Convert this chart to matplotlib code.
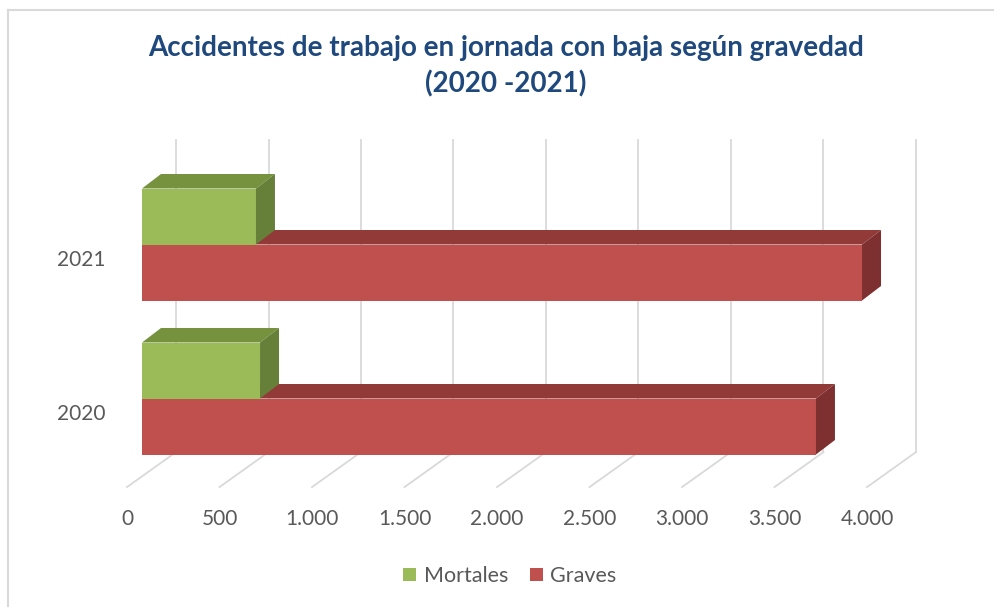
import numpy as np
import matplotlib.pyplot as plt
from matplotlib.patches import Polygon, Patch
from matplotlib.lines import Line2D

plt.rcParams['font.family'] = ['Lato', 'DejaVu Sans']

# Data
years = ['2020', '2021']
mortales = [638, 616]
graves = [3643, 3892]
xticks_vals = [0, 500, 1000, 1500, 2000, 2500, 3000, 3500, 4000]

# Colours
green_front, green_top, green_side = '#9BBB59', '#77923F', '#66803A'
red_front, red_top, red_side = '#C0504D', '#923A38', '#7D302F'
grid_col = '#D9D9D9'
text_col = '#595959'

W_PX, H_PX = 994, 607
fig = plt.figure(figsize=(W_PX / 100, H_PX / 100), dpi=100)

# front plane of the bars: x 0 -> 142px, 4000 -> 882px ; y unit = 154px, y=0 at 398.5px
ymin, ymax = -0.6, 1.7
px_per_y = 154.0
left_px, right_px = 142, 882
top_px = 398.5 - px_per_y * ymax
bot_px = 398.5 - px_per_y * ymin
ax = fig.add_axes([left_px / W_PX, 1 - bot_px / H_PX,
                   (right_px - left_px) / W_PX, (bot_px - top_px) / H_PX])
ax.set_xlim(0, 4000)
ax.set_ylim(ymin, ymax)
for s in ax.spines.values():
    s.set_visible(False)

sx = 4000 / (right_px - left_px)   # data units per px (x)
sy = 1 / px_per_y                  # data units per px (y)

# depth offsets (px)
bar_dx, bar_dy = 19 * sx, 14.5 * sy
back_dx, back_dy = 34 * sx, 24.5 * sy
front_dx, front_dy = -15 * sx, -10.5 * sy
y_floor = -0.507
y_wall_top = 1.679

# gridlines: back wall + floor
for v in xticks_vals:
    ax.plot([v + back_dx, v + back_dx], [y_floor + back_dy, y_wall_top],
            color=grid_col, lw=1.3, zorder=0, clip_on=False)
    ax.plot([v + back_dx, v + front_dx], [y_floor + back_dy, y_floor + front_dy],
            color=grid_col, lw=1.3, zorder=0, clip_on=False)
    ax.text(v + front_dx, -0.782, f'{v:,}'.replace(',', '.'), ha='center', va='center',
            fontsize=15, color=text_col)

cats = np.arange(len(years))
h = 56 / px_per_y


def bar3d(y0, vals, front, top, side, z):
    ax.barh(y0, vals, height=h, align='edge', color=front, zorder=z, linewidth=0)
    for y, v in zip(y0, vals):
        yt = y + h
        ax.add_patch(Polygon([(0, yt), (v, yt), (v + bar_dx, yt + bar_dy), (bar_dx, yt + bar_dy)],
                             closed=True, facecolor=top, edgecolor='none', zorder=z - 0.5))
        ax.add_patch(Polygon([(v, y), (v, yt), (v + bar_dx, yt + bar_dy), (v + bar_dx, y + bar_dy)],
                             closed=True, facecolor=side, edgecolor='none', zorder=z))


bar3d(cats - h, graves, red_front, red_top, red_side, 3)
bar3d(cats, mortales, green_front, green_top, green_side, 5)

ax.set_xticks([])
ax.set_yticks(cats - 0.088)
ax.set_yticklabels(years, fontsize=15, color=text_col)
ax.tick_params(axis='y', length=0, pad=26.5)

# title
title_col = '#1F497D'
fig.text(506 / W_PX, 1 - 48 / H_PX, 'Accidentes de trabajo en jornada con baja según gravedad',
         ha='center', va='center', fontsize=20, fontweight='bold', color=title_col)
fig.text(506 / W_PX, 1 - 84 / H_PX, '(2020 -2021)',
         ha='center', va='center', fontsize=20, fontweight='bold', color=title_col)

# legend
handles = [Patch(facecolor=green_front, edgecolor='none', label='Mortales'),
           Patch(facecolor=red_front, edgecolor='none', label='Graves')]
fig.legend(handles=handles, loc='center', bbox_to_anchor=(510 / W_PX, 1 - 576 / H_PX),
           ncol=2, frameon=False, fontsize=15.5, handlelength=0.6, handleheight=0.6,
           handletextpad=0.35, columnspacing=1.0, labelcolor=text_col)

# chart border (top and left edges)
fig.add_artist(Line2D([7.5 / W_PX, 1], [1 - 10 / H_PX, 1 - 10 / H_PX], color=grid_col, lw=1.5))
fig.add_artist(Line2D([7.5 / W_PX, 7.5 / W_PX], [0, 1 - 10 / H_PX], color=grid_col, lw=1.5))

fig.savefig('out.png', dpi=100, facecolor='white')
